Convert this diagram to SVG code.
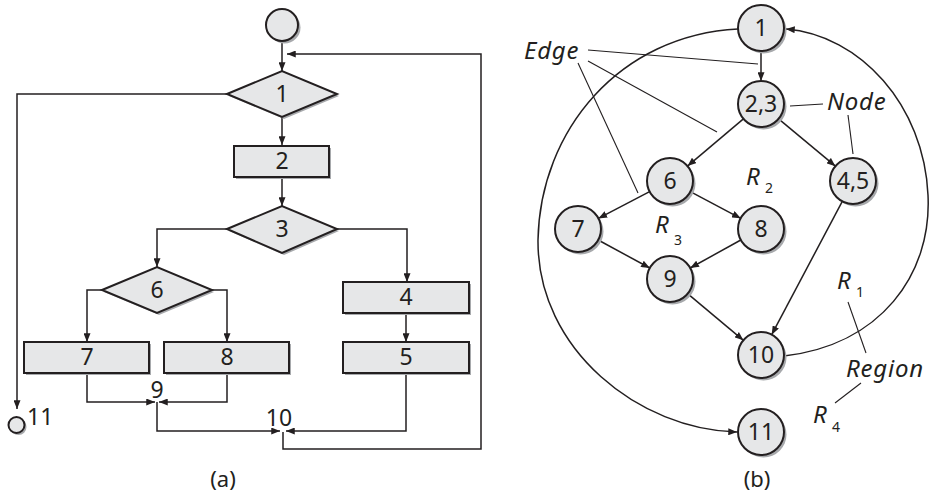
<svg xmlns="http://www.w3.org/2000/svg" width="932" height="495" viewBox="0 0 932 495">
<defs>
<marker id="arr" viewBox="0 0 10 8" markerWidth="9" markerHeight="7" refX="10" refY="4" orient="auto" markerUnits="userSpaceOnUse">
<path d="M0,0 L10,4 L0,8 z" fill="#231f20"/>
</marker>
<style>
text{font-family:"Noto Sans","Open Sans",sans-serif;fill:#231f20}
.t{font-size:23px;text-anchor:middle}
.lab{font-size:24px;font-style:italic;letter-spacing:0.8px}
.sub{font-size:14px}
.cap{font-size:22px;text-anchor:middle}
.sh{fill:#a7a9ac;stroke:none}
.n{fill:#e6e7e8;stroke:#231f20;stroke-width:2}
.ca{fill:none;stroke:#231f20;stroke-width:1.5;marker-end:url(#arr)}
.thin{fill:none;stroke:#231f20;stroke-width:1.1}
</style>
</defs>
<rect width="932" height="495" fill="#fff"/>

<!-- connectors (a) -->
<g id="connectors-a">
<path class="ca" d="M282,41 V71"/>
<path class="ca" d="M283,432 V449 H481 V54 H287"/>
<path class="ca" d="M227,94 H17 V409"/>
<path class="ca" d="M282,117 V145"/>
<path class="ca" d="M282,177 V206"/>
<path class="ca" d="M227,229 H157 V267"/>
<path class="ca" d="M337,229 H407 V282"/>
<path class="ca" d="M102,290 H87 V342"/>
<path class="ca" d="M212,290 H227 V342"/>
<path class="ca" d="M406,313 V342"/>
<path class="ca" d="M87,373 V402 H155"/>
<path class="ca" d="M227,373 V402 H159"/>
<path class="ca" d="M157,402 V431 H280"/>
<path class="ca" d="M406,373 V431 H286"/>
</g>

<!-- nodes (a) -->
<g id="a-start"><circle class="sh" cx="284.5" cy="27.5" r="16"/><circle class="n" cx="282" cy="25" r="16"/></g>
<g id="a-n1"><polygon class="sh" points="229,96 284,73 339,96 284,119"/><polygon class="n" points="227,94 282,71 337,94 282,117"/><text class="t" x="282" y="102">1</text></g>
<g id="a-n2"><rect class="sh" x="236" y="148" width="95" height="31"/><rect class="n" x="234" y="146" width="95" height="31"/><text class="t" x="282" y="169">2</text></g>
<g id="a-n3"><polygon class="sh" points="229,231 284,208 339,231 284,255"/><polygon class="n" points="227,229 282,206 337,229 282,253"/><text class="t" x="282" y="237">3</text></g>
<g id="a-n6"><polygon class="sh" points="104,292 159,269 214,292 159,315"/><polygon class="n" points="102,290 157,267 212,290 157,313"/><text class="t" x="157" y="298">6</text></g>
<g id="a-n7"><rect class="sh" x="26" y="344" width="125" height="31"/><rect class="n" x="24" y="342" width="125" height="31"/><text class="t" x="87" y="365">7</text></g>
<g id="a-n8"><rect class="sh" x="166" y="344" width="125" height="31"/><rect class="n" x="164" y="342" width="125" height="31"/><text class="t" x="227" y="365">8</text></g>
<g id="a-n4"><rect class="sh" x="345" y="284" width="126" height="31"/><rect class="n" x="343" y="282" width="126" height="31"/><text class="t" x="406" y="305">4</text></g>
<g id="a-n5"><rect class="sh" x="345" y="344" width="126" height="31"/><rect class="n" x="343" y="342" width="126" height="31"/><text class="t" x="406" y="365">5</text></g>
<g id="a-n9"><text class="t" x="157" y="398">9</text></g>
<g id="a-n10"><text class="t" x="279" y="426">10</text></g>
<g id="a-n11"><circle class="sh" cx="18.5" cy="427" r="8"/><circle class="n" cx="16.5" cy="425" r="8"/><text class="t" x="27" y="425" style="text-anchor:start">11</text></g>
<text class="cap" x="223" y="487">(a)</text>

<!-- connectors (b) -->
<g id="connectors-b">
<path class="ca" d="M761,51 V81"/>
<path class="ca" d="M743.4,118.9 L687.5,166.1"/>
<path class="ca" d="M778.6,118.8 L835.4,166.2"/>
<path class="ca" d="M649.6,191.6 L598.4,218.4"/>
<path class="ca" d="M690.3,191.7 L740.7,218.3"/>
<path class="ca" d="M598.2,240 L649.8,268"/>
<path class="ca" d="M740.8,240 L690.2,268"/>
<path class="ca" d="M687.6,293.7 L743.4,340.3"/>
<path class="ca" d="M842.3,201.3 L771.7,334.7"/>
<path class="ca" d="M784,356 C880,345 932,275 928,195 C924,105 860,35 786,29"/>
<path class="ca" d="M738,29 C620,35 540,130 538,240 C537,350 640,430 737,432"/>
</g>

<!-- annotation lines -->
<g id="annotations">
<path class="thin" d="M588,50 L758,64"/>
<path class="thin" d="M588,61 L717,132"/>
<path class="thin" d="M578,63 L638,193"/>
<path class="thin" d="M790,106 L823,104"/>
<path class="thin" d="M848,115 L853,154"/>
<path class="thin" d="M848,302 L866,353"/>
<path class="thin" d="M861,383 L835,403"/>
</g>

<!-- nodes (b) -->
<g id="b-n1"><circle class="sh" cx="763.5" cy="30.5" r="23"/><circle class="n" cx="761" cy="28" r="23"/><text class="t" x="761" y="36">1</text></g>
<g id="b-n23"><circle class="sh" cx="763.5" cy="106.5" r="23"/><circle class="n" cx="761" cy="104" r="23"/><text class="t" x="761" y="112">2,3</text></g>
<g id="b-n6"><circle class="sh" cx="672.5" cy="183.5" r="23"/><circle class="n" cx="670" cy="181" r="23"/><text class="t" x="670" y="189">6</text></g>
<g id="b-n45"><circle class="sh" cx="855.5" cy="183.5" r="23"/><circle class="n" cx="853" cy="181" r="23"/><text class="t" x="853" y="189">4,5</text></g>
<g id="b-n7"><circle class="sh" cx="580.5" cy="231.5" r="23"/><circle class="n" cx="578" cy="229" r="23"/><text class="t" x="578" y="237">7</text></g>
<g id="b-n8"><circle class="sh" cx="763.5" cy="231.5" r="23"/><circle class="n" cx="761" cy="229" r="23"/><text class="t" x="761" y="237">8</text></g>
<g id="b-n9"><circle class="sh" cx="672.5" cy="281.5" r="23"/><circle class="n" cx="670" cy="279" r="23"/><text class="t" x="670" y="287">9</text></g>
<g id="b-n10"><circle class="sh" cx="763.5" cy="357.5" r="23"/><circle class="n" cx="761" cy="355" r="23"/><text class="t" x="761" y="363">10</text></g>
<g id="b-n11"><circle class="sh" cx="763.5" cy="434.5" r="23"/><circle class="n" cx="761" cy="432" r="23"/><text class="t" x="761" y="440">11</text></g>

<!-- labels (b) -->
<text class="lab" x="524" y="59">Edge</text>
<text class="lab" x="827" y="110">Node</text>
<text class="lab" x="846" y="377">Region</text>
<text class="lab" x="746" y="185">R</text><text class="sub" x="765" y="193">2</text>
<text class="lab" x="655" y="233">R</text><text class="sub" x="674" y="245">3</text>
<text class="lab" x="837" y="289">R</text><text class="sub" x="856" y="297">1</text>
<text class="lab" x="813" y="423">R</text><text class="sub" x="832" y="432">4</text>
<text class="cap" x="757" y="487">(b)</text>
</svg>
